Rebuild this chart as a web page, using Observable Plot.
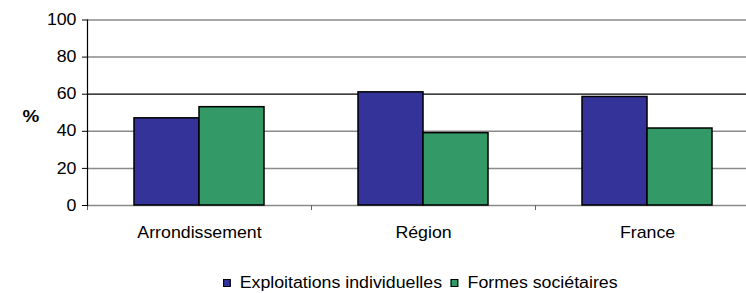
<!DOCTYPE html>
<html><head><meta charset="utf-8">
<script src="https://cdn.jsdelivr.net/npm/d3@7"></script>
<script src="https://cdn.jsdelivr.net/npm/@observablehq/plot@0.6"></script>
<style>
body{margin:0;background:#fff;font-family:"Liberation Sans",Arial,sans-serif;}
#wrap{position:relative;width:746px;height:293px;overflow:hidden;}
#legend{position:absolute;left:223px;top:274px;display:flex;align-items:center;font-size:16px;letter-spacing:0px;color:#000;white-space:nowrap;transform:scaleX(1.11);transform-origin:left center;line-height:18px;}
#legend .sw{box-sizing:border-box;width:7px;height:8px;border:1px solid #000;display:inline-block;margin-right:8px;}
#legend .item{display:flex;align-items:center;margin-right:8px;}
</style></head>
<body><div id="wrap"><div id="chart"></div><div id="legend"></div></div>
<script>
const categories = ["Arrondissement", "Région", "France"];
const series = ["Exploitations individuelles", "Formes sociétaires"];
const individuelles = [47, 61, 58.5];
const societaires = [53, 39, 41.5];
const yTicks = [0, 20, 40, 60, 80, 100];
const colors = ["#333399", "#339966"];

const rows = categories.map((c, i) => ({cat: c, a: individuelles[i], b: societaires[i]}));

const plot = Plot.plot({
  width: 746, height: 268,
  marginTop: 19.5, marginBottom: 63, marginLeft: 87, marginRight: 0,
  style: {fontFamily: "'Liberation Sans', Arial, sans-serif", fontSize: "16px", background: "#fff", overflow: "hidden"},
  x: {domain: categories, range: [87, 759], padding: 0},
  y: {domain: [0, 100], range: [205, 19.5]},
  marks: [
    Plot.ruleY(yTicks.filter(d => d !== 60), {y: d => d, stroke: "#8a8a8a", strokeWidth: 1.5, strokeOpacity: 1}),
    Plot.ruleY([60], {y: d => d, stroke: "#000", strokeWidth: 1.2}),
    Plot.barY(rows, {x: "cat", y: "a", fill: colors[0], stroke: "#000", strokeWidth: 1.5, insetLeft: 47, insetRight: 112}),
    Plot.barY(rows, {x: "cat", y: "b", fill: colors[1], stroke: "#000", strokeWidth: 1.5, insetLeft: 112, insetRight: 47}),
    Plot.axisY({ticks: yTicks, tickSize: 5, tickPadding: 6, fontSize: 16, stroke: "#000", strokeOpacity: 1, tickFormat: d => d, label: null, style: {letterSpacing: "-0.6px"}}),
    Plot.axisX({tickSize: 0, tickPadding: 21, fontSize: 16, label: null, style: {letterSpacing: "-0.4px"}}),
    Plot.axisX({tickSize: 5, text: null, dx: -112, stroke: "#666", strokeOpacity: 1, label: null}),
    Plot.frame({anchor: "left", stroke: "#000", strokeWidth: 1.2}),
    Plot.text(["%"], {text: d => d, frameAnchor: "left", dx: -65, dy: 4, textAnchor: "start", fontWeight: "bold", fontSize: 17})
  ]
});
document.getElementById("chart").appendChild(plot);

// horizontal stretch of the labels, as in the reference rendering
d3.select(plot).selectAll("text").each(function() {
  const el = this;
  const t = el.getAttribute("transform") || "";
  const x = +(el.getAttribute("x") || 0);
  el.setAttribute("transform", `${t} translate(${x},0) scale(1.11,1) translate(${-x},0)`);
});

const lg = d3.select("#legend");
series.forEach((s, i) => {
  const it = lg.append("span").attr("class", "item");
  it.append("span").attr("class", "sw").style("background", colors[i]);
  it.append("span").text(s);
});
</script></body></html>
